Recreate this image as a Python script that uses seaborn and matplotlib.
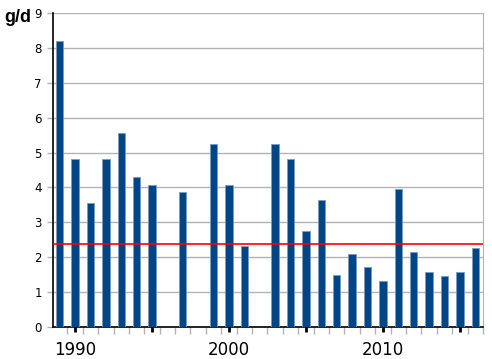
import matplotlib
matplotlib.use('Agg')
import matplotlib.pyplot as plt
import pandas as pd
import seaborn as sns
from matplotlib.ticker import MultipleLocator, FixedLocator

# Data (missing years have no bar)
years = [1989, 1990, 1991, 1992, 1993, 1994, 1995, 1997, 1999, 2000, 2001,
         2003, 2004, 2005, 2006, 2007, 2008, 2009, 2010, 2011, 2012, 2013,
         2014, 2015, 2016]
values = [8.21, 4.81, 3.55, 4.81, 5.55, 4.31, 4.07, 3.86, 5.24, 4.07, 2.32,
          5.24, 4.81, 2.75, 3.64, 1.49, 2.08, 1.72, 1.30, 3.95, 2.14, 1.57,
          1.45, 1.57, 2.26]
average = 2.37
year_labels = [1990, 2000, 2010]

df = pd.DataFrame({'year': years, 'value': values})

sns.set_style('white')
plt.rcParams['font.family'] = ['DejaVu Sans']
plt.rcParams['text.color'] = 'black'
plt.rcParams['xtick.labelcolor'] = 'black'
plt.rcParams['ytick.labelcolor'] = 'black'

fig = plt.figure(figsize=(4.92, 3.59), dpi=100)
ax = fig.add_axes([53 / 492, (359 - 326.7) / 359, 430 / 492, 313.4 / 359])

sns.barplot(data=df, x='year', y='value', native_scale=True, width=0.48,
            color='#004586', saturation=1, edgecolor='#7a9cc4', linewidth=0.6,
            ax=ax, zorder=3)
ax.axhline(average, color='#ff0000', lw=1.2, zorder=4)

ax.set_xlim(1988.57, 2016.5)
ax.set_ylim(0, 9)
ax.yaxis.set_major_locator(MultipleLocator(1))
ax.grid(axis='y', color='#b3b3b3', lw=1, zorder=0)
ax.set_axisbelow(True)

# x ticks: bold majors every 5 years, labels only at decades, minors at boundaries
ax.xaxis.set_major_locator(FixedLocator(list(range(1990, 2016, 5))))
ax.xaxis.set_minor_locator(FixedLocator([y + 0.5 for y in range(1988, 2017)]))
ax.set_xticklabels([str(y) if y in year_labels else '' for y in range(1990, 2016, 5)],
                   fontsize=12, color='black')
ax.tick_params(axis='x', which='major', direction='inout', length=7, width=2,
               color='black', pad=7, labelcolor='black')
ax.tick_params(axis='x', which='minor', direction='out', length=5, width=1,
               color='#b3b3b3')
ax.tick_params(axis='y', which='major', direction='out', length=4, width=1,
               color='#b3b3b3', labelsize=8.5, pad=4, labelcolor='black')
ax.tick_params(left=True, bottom=True, which='both')

ax.set_xlabel('')
ax.set_ylabel('')

for s in ['left', 'bottom']:
    ax.spines[s].set_color('black')
    ax.spines[s].set_linewidth(1.2)
ax.spines['right'].set_color('#b3b3b3')
ax.spines['top'].set_visible(False)

fig.text(4 / 492, 1 - 18 / 359, 'g/d', fontsize=13, fontweight='bold',
         family='Liberation Sans', va='center', ha='left', color='black')

fig.savefig('out.png', dpi=100)
